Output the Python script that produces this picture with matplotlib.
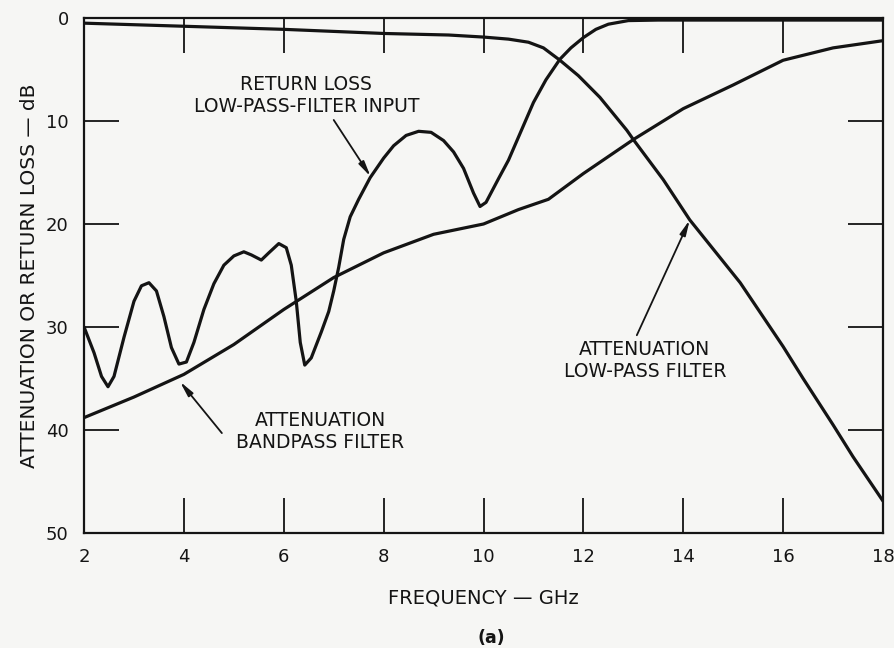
import numpy as np
from matplotlib import pyplot as plt

# Odczytane punkty krzywych (GHz, dB)
rl_freq = [2.0, 2.2, 2.35, 2.48, 2.6, 2.8, 3.0, 3.15, 3.3, 3.45, 3.6, 3.75, 3.9, 4.05,
           4.2, 4.4, 4.6, 4.8, 5.0, 5.2, 5.35, 5.55, 5.7, 5.9, 6.05, 6.15, 6.25, 6.33,
           6.42, 6.55, 6.75, 6.9, 7.0, 7.1, 7.2, 7.33, 7.5, 7.73, 8.0, 8.2, 8.45, 8.7,
           8.95, 9.2, 9.4, 9.6, 9.8, 9.93, 10.05, 10.3, 10.5, 10.75, 11.0, 11.25, 11.53,
           11.75, 12.0, 12.25, 12.5, 12.9, 13.5, 18.0]
rl_db = [30.0, 32.5, 34.8, 35.8, 34.8, 31.0, 27.5, 26.0, 25.7, 26.5, 29.0, 32.0, 33.6, 33.4,
         31.5, 28.3, 25.8, 24.0, 23.1, 22.7, 23.0, 23.5, 22.8, 21.9, 22.3, 24.0, 27.5, 31.5,
         33.7, 33.0, 30.5, 28.5, 26.5, 24.2, 21.5, 19.3, 17.6, 15.5, 13.6, 12.4, 11.4, 11.0,
         11.1, 11.9, 13.0, 14.6, 17.0, 18.3, 17.9, 15.6, 13.8, 11.0, 8.2, 6.0, 4.0,
         2.9, 1.9, 1.1, 0.6, 0.25, 0.2, 0.2]

lp_freq = [2, 4, 6, 8, 9.3, 10, 10.5, 10.9, 11.2, 11.53, 11.9, 12.33, 12.87, 13.0,
           13.6, 14.13, 15.14, 16.0, 16.4, 17.0, 17.4, 18.0]
lp_db = [0.5, 0.8, 1.1, 1.5, 1.65, 1.85, 2.05, 2.35, 2.9, 4.1, 5.6, 7.7, 10.9, 11.8,
         15.7, 19.6, 25.7, 31.9, 35.0, 39.5, 42.6, 46.9]

bp_freq = [2, 3, 4, 5, 6, 7, 8, 9, 10, 10.7, 11.3, 12, 13, 14, 15, 16, 17, 18]
bp_db = [38.8, 36.8, 34.6, 31.7, 28.3, 25.2, 22.8, 21.0, 20.0, 18.6, 17.6, 15.1, 11.8,
         8.8, 6.5, 4.1, 2.9, 2.2]

x_ticks = [2, 4, 6, 8, 10, 12, 14, 16, 18]
y_ticks = [0, 10, 20, 30, 40, 50]

bg = '#f6f6f4'
ink = '#141414'

plt.rcParams['font.family'] = ['DejaVu Sans']

fig = plt.figure(figsize=(8.95, 6.48), dpi=100, facecolor=bg)
ax = fig.add_axes([0.0939, 0.1775, 0.8927, 0.7947], facecolor=bg)

for fx, fy in [(rl_freq, rl_db), (lp_freq, lp_db), (bp_freq, bp_db)]:
    ax.plot(fx, fy, color=ink, lw=2.3, solid_capstyle='round', solid_joinstyle='round')

ax.set_xlim(2, 18)
ax.set_ylim(50, 0)
ax.set_xticks(x_ticks)
ax.set_yticks(y_ticks)
ax.tick_params(axis='both', direction='in', length=25, width=1.3, color=ink,
               labelsize=13, labelcolor=ink, top=True, right=True, pad=11)
for s in ax.spines.values():
    s.set_linewidth(1.6)
    s.set_color(ink)

ax.set_xlabel('FREQUENCY — GHz', fontsize=14, color=ink, labelpad=16)
ax.set_ylabel('ATTENUATION OR RETURN LOSS — dB', fontsize=14.5, color=ink, labelpad=5)
fig.text(0.549, 0.008, '(a)', fontsize=12.5, fontweight='bold', ha='center', color=ink)

arrow = dict(arrowstyle='-|>,head_length=0.9,head_width=0.18', color=ink, lw=1.3,
             shrinkA=0, shrinkB=0)
ax.text(6.45, 7.5, 'RETURN LOSS\nLOW-PASS-FILTER INPUT', ha='center', va='center',
        fontsize=13.5, color=ink, linespacing=1.2)
ax.annotate('', xy=(7.74, 15.4), xytext=(7.0, 9.9), arrowprops=arrow)

ax.text(6.73, 40.1, 'ATTENUATION\nBANDPASS FILTER', ha='center', va='center',
        fontsize=13.5, color=ink, linespacing=1.2)
ax.annotate('', xy=(3.92, 35.3), xytext=(4.76, 40.3), arrowprops=arrow)

ax.text(13.23, 33.3, 'ATTENUATION\nLOW-PASS FILTER', ha='center', va='center',
        fontsize=13.5, color=ink, linespacing=1.2)
ax.annotate('', xy=(14.13, 19.6), xytext=(13.07, 30.8), arrowprops=arrow)

plt.savefig('out.png', dpi=100, facecolor=bg)
